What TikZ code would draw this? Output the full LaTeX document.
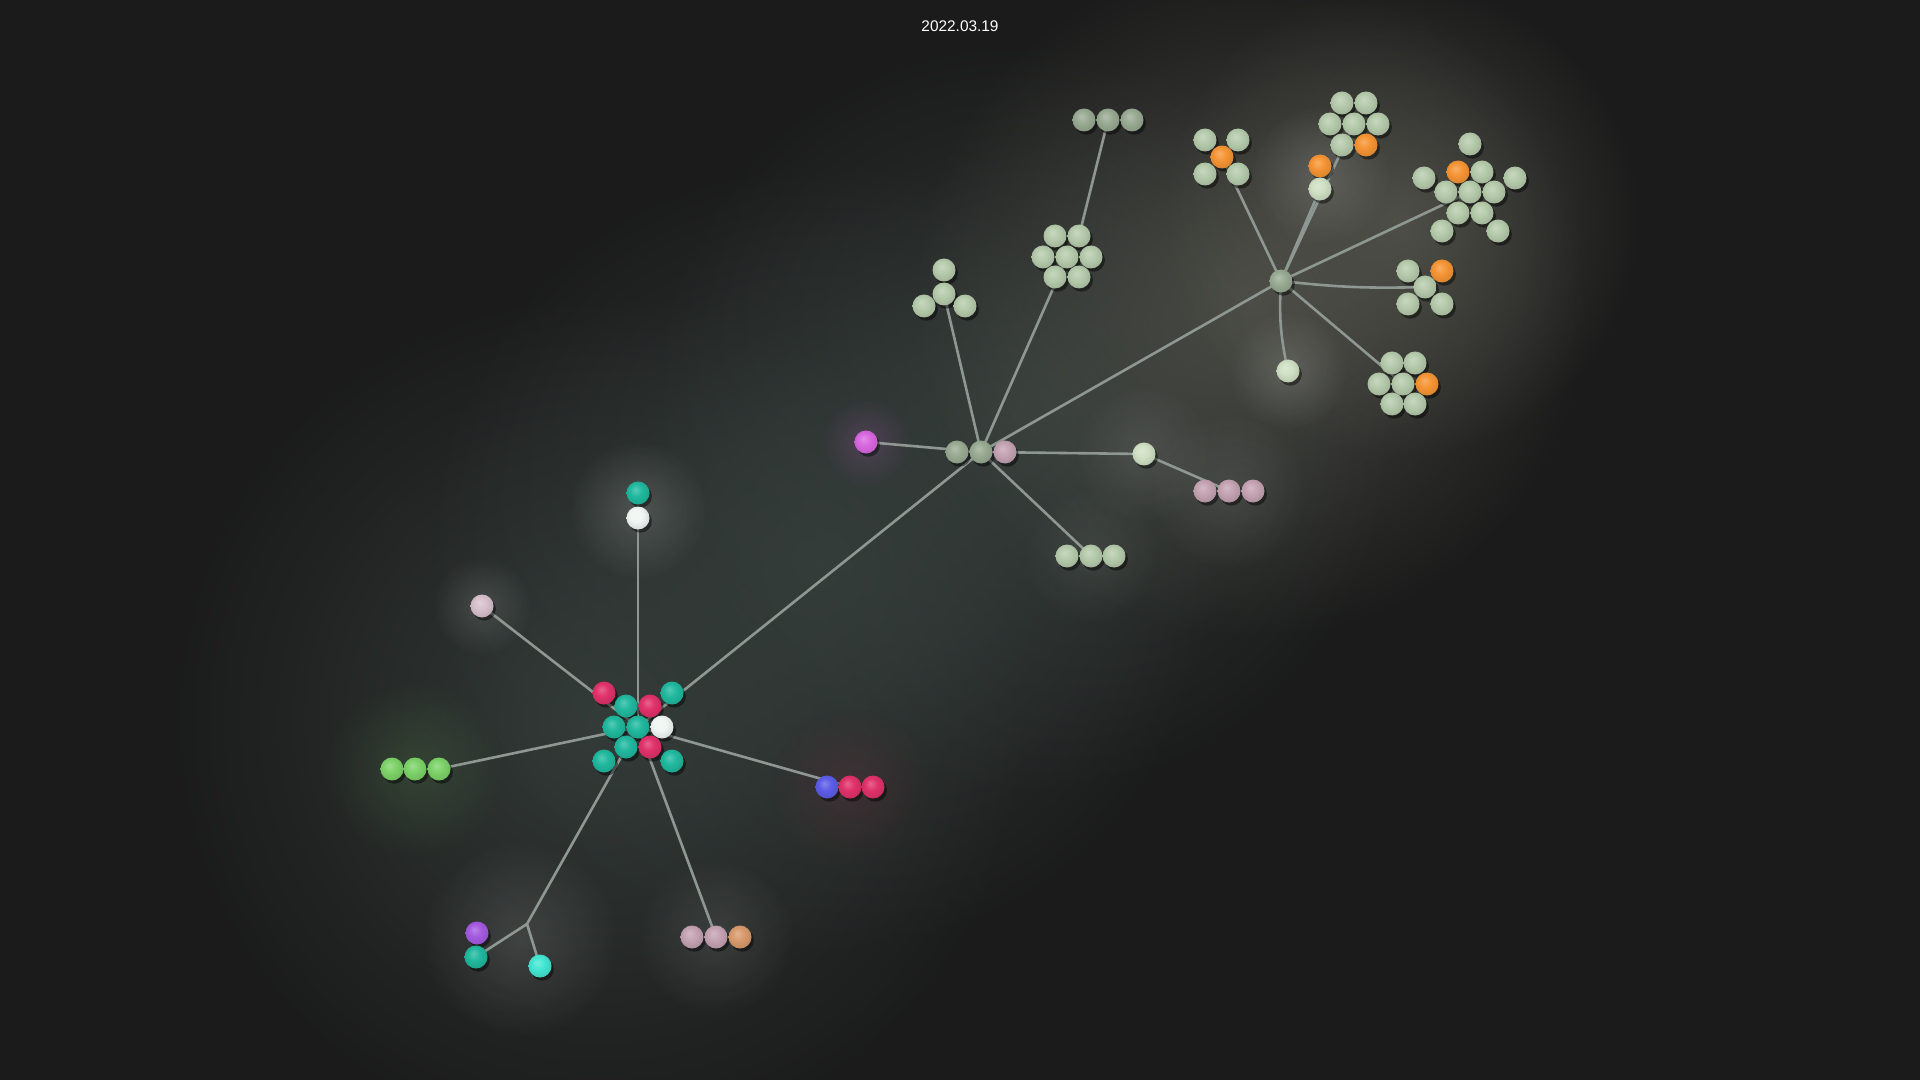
\documentclass[tikz,border=0pt]{standalone}
\usepackage{fontspec}
\setmainfont{Liberation Sans}
\usetikzlibrary{fadings,shadows}

\definecolor{bgdark}{HTML}{1B1B1B}
\definecolor{haze}{HTML}{37403D}
\definecolor{warmhaze}{HTML}{5A5B52}
\definecolor{linkgray}{HTML}{8E9792}
\definecolor{teal}{HTML}{20B89E}
\definecolor{rose}{HTML}{E0316A}
\definecolor{snow}{HTML}{F0F6F3}
\definecolor{violetblue}{HTML}{5C5CE8}
\definecolor{leaf}{HTML}{7DD268}
\definecolor{lilac}{HTML}{A45AE0}
\definecolor{aqua}{HTML}{42E6D2}
\definecolor{tan}{HTML}{D89A6C}
\definecolor{mauve}{HTML}{C4A2B2}
\definecolor{palepink}{HTML}{D6BFCC}
\definecolor{orchid}{HTML}{D867E0}
\definecolor{sage}{HTML}{98AA92}
\definecolor{sagelight}{HTML}{B5CAAB}
\definecolor{sagepale}{HTML}{CFE0C4}
\definecolor{amber}{HTML}{F59434}

\makeatletter
\pgfdeclareradialshading[tikz@ball]{softball}{\pgfqpoint{-6bp}{8bp}}{%
  color(0bp)=(tikz@ball!75!white); color(14bp)=(tikz@ball);
  color(30bp)=(tikz@ball!88!black); color(50bp)=(tikz@ball!70!black)}
\makeatother

\tikzfading[name=glowfade, inner color=transparent!0, outer color=transparent!100]

\pgfdeclarelayer{bg}
\pgfdeclarelayer{edges}
\pgfsetlayers{bg,edges,main}

\tikzset{
  orb/.style={circle, inner sep=0pt, minimum size=11.5pt, ball color=#1, shading=softball,
    drop shadow={shadow xshift=1.2pt, shadow yshift=-1.6pt, opacity=.45, fill=black}},
  link/.style={draw=linkgray, line width=1.3pt, line cap=round},
  glow/.style={fill=#1, path fading=glowfade}
}

\begin{document}
\begin{tikzpicture}[x=0.5pt, y=-0.5pt]
  \useasboundingbox (0,0) rectangle (1920,1080);

  \node[text=white, font=\fontsize{7.7}{9}\selectfont] (date) at (960,26) {2022.03.19};

  % teal cluster
  \node[orb=rose] (a1) at (604,693) {};
  \node[orb=teal] (a2) at (626,706) {};
  \node[orb=rose] (a3) at (650,706) {};
  \node[orb=teal] (a4) at (672,693) {};
  \node[orb=teal] (a5) at (614,727) {};
  \node[orb=teal] (hubA) at (638,727) {};
  \node[orb=snow] (a7) at (662,727) {};
  \node[orb=teal] (a8) at (626,747) {};
  \node[orb=rose] (a9) at (650,747) {};
  \node[orb=teal] (a10) at (604,761) {};
  \node[orb=teal] (a11) at (672,761) {};

  \node[orb=teal] (topteal) at (638,493) {};
  \node[orb=snow] (topwhite) at (638,518) {};
  \node[orb=palepink] (pale) at (482,606) {};
  \node[orb=leaf] (g1) at (392,769) {};
  \node[orb=leaf] (g2) at (415,769) {};
  \node[orb=leaf] (g3) at (439,769) {};
  \node[orb=violetblue] (b1) at (827,787) {};
  \node[orb=rose] (b2) at (850,787) {};
  \node[orb=rose] (b3) at (873,787) {};
  \node[orb=mauve] (t1) at (692,937) {};
  \node[orb=mauve] (t2) at (716,937) {};
  \node[orb=tan] (t3) at (740,937) {};
  \coordinate (fork) at (527,924);
  \node[orb=lilac] (purple) at (477,933) {};
  \node[orb=teal] (lowteal) at (476,957) {};
  \node[orb=aqua] (lowaqua) at (540,966) {};

  % middle hub
  \node[orb=sage] (m1) at (957,452) {};
  \node[orb=sage] (hubB) at (981,452) {};
  \node[orb=mauve] (m3) at (1005,452) {};
  \node[orb=orchid] (magenta) at (866,442) {};
  \node[orb=sagelight] (tr1) at (944,270) {};
  \node[orb=sagelight] (tr2) at (944,294) {};
  \node[orb=sagelight] (tr3) at (924,306) {};
  \node[orb=sagelight] (tr4) at (965,306) {};
  \node[orb=sagelight] (h1) at (1055,236) {};
  \node[orb=sagelight] (h2) at (1079,236) {};
  \node[orb=sagelight] (h3) at (1043,257) {};
  \node[orb=sagelight] (h4) at (1067,257) {};
  \node[orb=sagelight] (h5) at (1091,257) {};
  \node[orb=sagelight] (h6) at (1055,277) {};
  \node[orb=sagelight] (h7) at (1079,277) {};
  \node[orb=sage] (k1) at (1084,120) {};
  \node[orb=sage] (k2) at (1108,120) {};
  \node[orb=sage] (k3) at (1132,120) {};
  \node[orb=sagepale] (lone) at (1144,454) {};
  \node[orb=mauve] (p1) at (1205,491) {};
  \node[orb=mauve] (p2) at (1229,491) {};
  \node[orb=mauve] (p3) at (1253,491) {};
  \node[orb=sagelight] (q1) at (1067,556) {};
  \node[orb=sagelight] (q2) at (1091,556) {};
  \node[orb=sagelight] (q3) at (1114,556) {};

  % right hub
  \node[orb=sage] (hubC) at (1281,281) {};
  \node[orb=sagelight] (c1) at (1205,140) {};
  \node[orb=sagelight] (c2) at (1238,140) {};
  \node[orb=amber] (c3) at (1222,157) {};
  \node[orb=sagelight] (c4) at (1205,174) {};
  \node[orb=sagelight] (c5) at (1238,174) {};
  \node[orb=amber] (pairtop) at (1320,166) {};
  \node[orb=sagepale] (pairlow) at (1320,189) {};
  \node[orb=sagelight] (f1) at (1342,103) {};
  \node[orb=sagelight] (f2) at (1366,103) {};
  \node[orb=sagelight] (f3) at (1330,124) {};
  \node[orb=sagelight] (f4) at (1354,124) {};
  \node[orb=sagelight] (f5) at (1378,124) {};
  \node[orb=sagelight] (f6) at (1342,145) {};
  \node[orb=amber] (f7) at (1366,145) {};
  \node[orb=sagelight] (s1) at (1470,144) {};
  \node[orb=sagelight] (s2) at (1424,178) {};
  \node[orb=amber] (s3) at (1458,172) {};
  \node[orb=sagelight] (s4) at (1482,172) {};
  \node[orb=sagelight] (s5) at (1515,178) {};
  \node[orb=sagelight] (s6) at (1446,192) {};
  \node[orb=sagelight] (s7) at (1470,192) {};
  \node[orb=sagelight] (s8) at (1494,192) {};
  \node[orb=sagelight] (s9) at (1458,213) {};
  \node[orb=sagelight] (s10) at (1482,213) {};
  \node[orb=sagelight] (s11) at (1442,231) {};
  \node[orb=sagelight] (s12) at (1498,231) {};
  \node[orb=sagelight] (x1) at (1408,271) {};
  \node[orb=amber] (x2) at (1442,271) {};
  \node[orb=sagelight] (x3) at (1425,287) {};
  \node[orb=sagelight] (x4) at (1408,304) {};
  \node[orb=sagelight] (x5) at (1442,304) {};
  \node[orb=sagepale] (single) at (1288,371) {};
  \node[orb=sagelight] (y1) at (1392,363) {};
  \node[orb=sagelight] (y2) at (1415,363) {};
  \node[orb=sagelight] (y3) at (1379,384) {};
  \node[orb=sagelight] (y4) at (1403,384) {};
  \node[orb=amber] (y5) at (1427,384) {};
  \node[orb=sagelight] (y6) at (1392,404) {};
  \node[orb=sagelight] (y7) at (1415,404) {};

  \begin{pgfonlayer}{edges}
    \draw[link] (hubA.center) -- (topwhite.center);
    \draw[link] (hubA.center) -- (pale.center);
    \draw[link] (hubA.center) -- (g3.center);
    \draw[link] (hubA.center) -- (b2.center);
    \draw[link] (hubA.center) -- (t2.center);
    \draw[link] (hubA.center) -- (fork);
    \draw[link] (fork) -- (lowteal.center);
    \draw[link] (fork) -- (lowaqua.center);
    \draw[link] (hubA.center) -- (hubB.center);
    \draw[link] (hubB.center) -- (magenta.center);
    \draw[link] (hubB.center) -- (tr2.center);
    \draw[link] (hubB.center) -- (h4.center);
    \draw[link] (k2.center) -- (h2.center);
    \draw[link] (hubB.center) -- (lone.center);
    \draw[link] (lone.center) -- (p2.center);
    \draw[link] (hubB.center) -- (q2.center);
    \draw[link] (hubB.center) -- (hubC.center);
    \draw[link] (hubC.center) -- (c3.center);
    \draw[link] (hubC.center) -- (pairlow.center);
    \draw[link] (hubC.center) -- (f4.center);
    \draw[link] (hubC.center) -- (s7.center);
    \draw[link] (hubC.center) to[bend right=4] (x3.center);
    \draw[link] (hubC.center) to[bend right=8] (single.center);
    \draw[link] (hubC.center) -- (y4.center);
  \end{pgfonlayer}

  \begin{pgfonlayer}{bg}
    \fill[bgdark] (0,0) rectangle (1920,1080);
    \fill[glow=haze, fill opacity=.85] (600,720) circle (430);
    \fill[glow=haze, fill opacity=.85] (820,560) circle (400);
    \fill[glow=haze, fill opacity=.85] (1020,420) circle (380);
    \fill[glow=warmhaze, fill opacity=.7] (1250,300) circle (340);
    \fill[glow=warmhaze, fill opacity=.7] (1400,220) circle (240);
    \fill[glow=white, fill opacity=.16] (638,510) circle (70);
    \fill[glow=white, fill opacity=.13] (482,606) circle (50);
    \fill[glow=leaf, fill opacity=.14] (415,769) circle (90);
    \fill[glow=rose, fill opacity=.11] (850,787) circle (80);
    \fill[glow=white, fill opacity=.12] (520,940) circle (100);
    \fill[glow=white, fill opacity=.1] (716,937) circle (80);
    \fill[glow=orchid, fill opacity=.18] (866,442) circle (45);
    \fill[glow=white, fill opacity=.09] (1144,454) circle (70);
    \fill[glow=white, fill opacity=.09] (1229,491) circle (80);
    \fill[glow=white, fill opacity=.07] (1091,556) circle (70);
    \fill[glow=white, fill opacity=.15] (1288,371) circle (60);
    \fill[glow=white, fill opacity=.14] (1320,175) circle (70);
  \end{pgfonlayer}
\end{tikzpicture}
\end{document}
